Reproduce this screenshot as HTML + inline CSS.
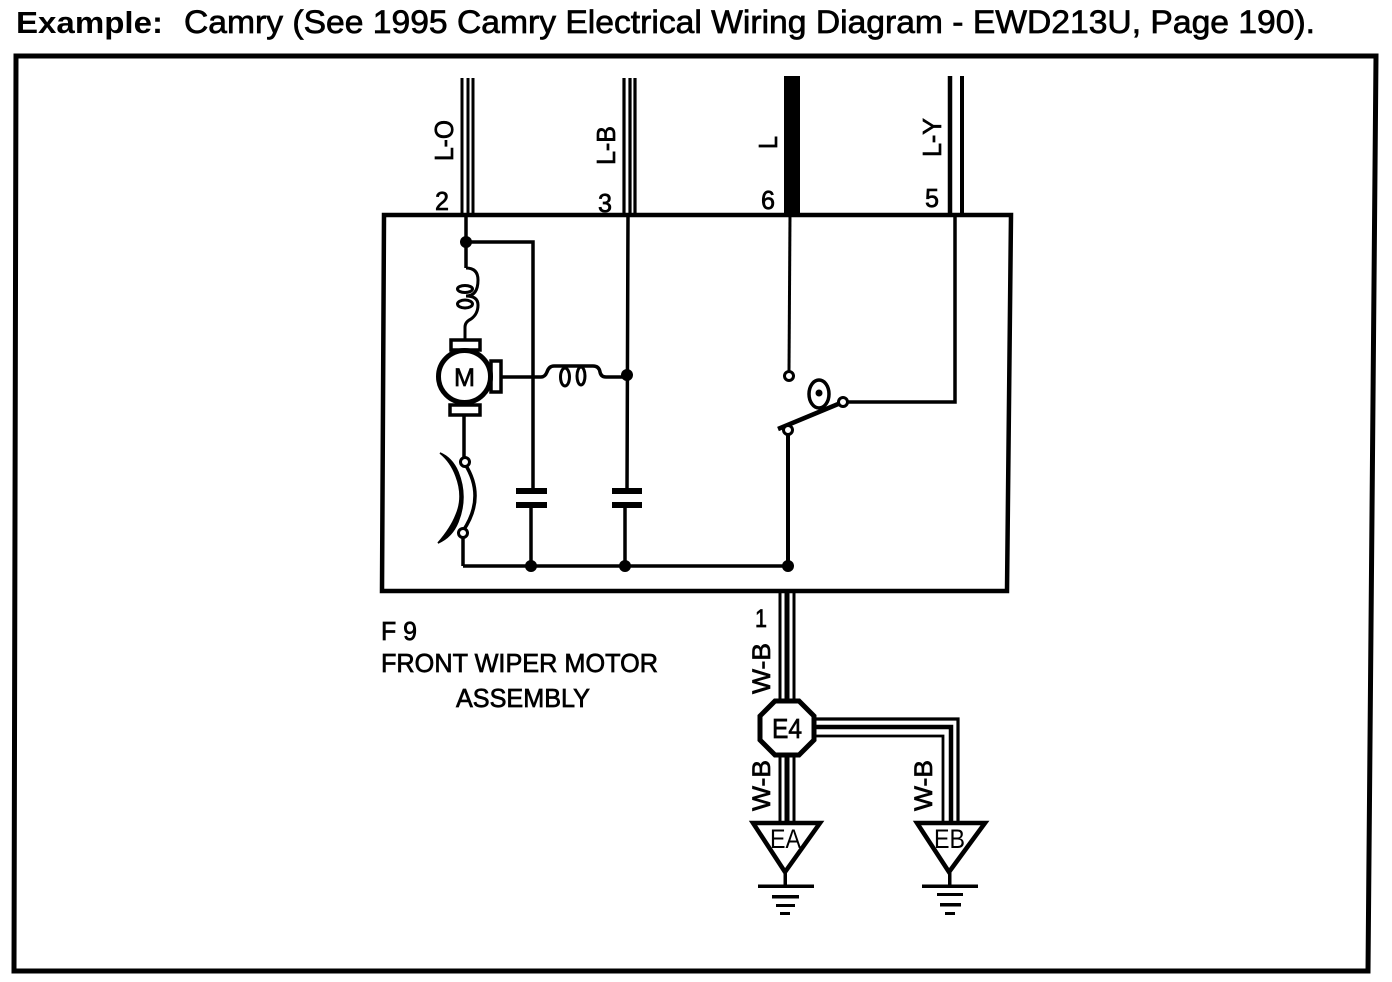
<!DOCTYPE html>
<html>
<head>
<meta charset="utf-8">
<style>
html,body{margin:0;padding:0;background:#fff;width:1392px;height:982px;overflow:hidden}
svg{display:block}
text{font-family:"Liberation Sans",sans-serif;fill:#000}
.w{fill:none;stroke:#000;stroke-width:3.5}
.t{fill:none;stroke:#000;stroke-width:3}
.o{fill:#fff;stroke:#000;stroke-width:3.5}
.s{stroke:#000;stroke-width:.7}
</style>
</head>
<body>
<svg width="1392" height="982" viewBox="0 0 1392 982" xmlns="http://www.w3.org/2000/svg">
<!-- Title -->
<text x="16" y="33" font-size="31" font-weight="bold" textLength="147" lengthAdjust="spacingAndGlyphs">Example:</text>
<text x="184" y="33" font-size="32" textLength="1131" lengthAdjust="spacingAndGlyphs" class="s">Camry (See 1995 Camry Electrical Wiring Diagram - EWD213U, Page 190).</text>

<!-- Outer frame -->
<polygon points="16,56 1376,56 1368,971 14,971" fill="none" stroke="#000" stroke-width="5"/>

<!-- Component box -->
<polygon points="384,215 1011,215 1007,591 382,591" fill="none" stroke="#000" stroke-width="4.500"/>

<!-- Top wires -->
<g stroke="#000" fill="none">
  <path d="M462 78V215M468 78V215M473 78V215" stroke-width="3"/>
  <path d="M624 78V215M630 78V215M635 78V215" stroke-width="3.200"/>
  <path d="M792 76V215" stroke-width="16"/>
  <path d="M950 76V215" stroke-width="4.500"/>
  <path d="M962 76V215" stroke-width="4"/>
</g>

<!-- Top labels -->
<g font-size="26" class="s">
  <text transform="translate(453,161) rotate(-90)" textLength="41" lengthAdjust="spacingAndGlyphs">L-O</text>
  <text transform="translate(615,165) rotate(-90)" textLength="39" lengthAdjust="spacingAndGlyphs">L-B</text>
  <text transform="translate(777,149) rotate(-90)" textLength="13" lengthAdjust="spacingAndGlyphs">L</text>
  <text transform="translate(941,157) rotate(-90)" textLength="39" lengthAdjust="spacingAndGlyphs">L-Y</text>
  <text x="435" y="210" textLength="14" lengthAdjust="spacingAndGlyphs">2</text>
  <text x="598" y="212" textLength="14" lengthAdjust="spacingAndGlyphs">3</text>
  <text x="761" y="209" textLength="14" lengthAdjust="spacingAndGlyphs">6</text>
  <text x="925" y="207" textLength="14" lengthAdjust="spacingAndGlyphs">5</text>
</g>

<!-- Internal wiring -->
<path class="w" d="M466 215V268M466 242H533V491M531 505V566M628 215L627 491M625 505V566M463 566H788M463 533V566"/>
<circle cx="466" cy="242" r="6"/>
<circle cx="531" cy="566" r="6"/>
<circle cx="625" cy="566" r="6"/>
<circle cx="788" cy="566" r="6"/>
<circle cx="627" cy="375" r="6"/>

<!-- Vertical coil -->
<path class="t" d="M466 268Q478 268 478 280Q478 296 466 296Q478 296 478 305Q478 314 471 319Q465 322 465 327V342"/>
<ellipse cx="465" cy="289" rx="7.5" ry="3.500" class="t"/>
<ellipse cx="465" cy="304" rx="7.5" ry="4" class="t"/>

<!-- Motor -->
<rect x="451" y="340" width="29" height="10" class="o"/>
<rect x="450" y="405" width="30" height="10" class="o"/>
<rect x="491" y="361" width="10" height="31" class="o"/>
<circle cx="464.500" cy="376.500" r="26" fill="#fff" stroke="#000" stroke-width="5"/>
<text x="454" y="386" font-size="25" class="s" textLength="21" lengthAdjust="spacingAndGlyphs">M</text>

<!-- Horizontal coil -->
<path class="w" d="M502 377H541Q545 377 547 372Q549 366 554 366H593Q599 366 600 372Q601 377 606 377H627"/>
<ellipse cx="565" cy="377" rx="4.500" ry="9" class="t"/>
<ellipse cx="581" cy="376" rx="4" ry="9" class="t"/>

<!-- Capacitors -->
<g fill="#000">
  <rect x="516" y="488" width="31" height="6"/>
  <rect x="516" y="502" width="31" height="6"/>
  <rect x="612" y="488" width="30" height="6"/>
  <rect x="612" y="502" width="30" height="6"/>
</g>

<!-- Breaker -->
<path class="w" d="M464 416V458"/>
<path d="M440 453Q452 458 458 472Q468 497 458 522Q452 537 438 543Q451 528 456 515Q464 497 456 476Q451 462 440 453Z" fill="#000" stroke="#000" stroke-width="1.500"/>
<path d="M465 464Q486 497 463 531" fill="none" stroke="#000" stroke-width="3.500"/>
<circle cx="465" cy="462" r="4.500" class="t" style="fill:#fff"/>
<circle cx="463" cy="533" r="4.500" class="t" style="fill:#fff"/>

<!-- Switch -->
<path d="M790 215L789 371" fill="none" stroke="#000" stroke-width="3"/>
<path d="M955 215V402H843" class="w"/>
<path d="M788 430V566" fill="none" stroke="#000" stroke-width="4"/>
<path d="M778 429L843 402" fill="none" stroke="#000" stroke-width="4.500"/>
<ellipse cx="819" cy="394" rx="10" ry="14" fill="#fff" stroke="#000" stroke-width="3.500"/>
<circle cx="819" cy="393" r="3.500"/>
<circle cx="789" cy="376" r="4.500" class="t" style="fill:#fff"/>
<circle cx="788" cy="430" r="4.500" class="t" style="fill:#fff"/>
<circle cx="843" cy="402" r="4.500" class="t" style="fill:#fff"/>

<!-- Component name -->
<g font-size="26" class="s">
  <text x="381" y="640" textLength="36" lengthAdjust="spacingAndGlyphs">F 9</text>
  <text x="381" y="672" textLength="277" lengthAdjust="spacingAndGlyphs">FRONT WIPER MOTOR</text>
  <text x="456" y="707" textLength="134" lengthAdjust="spacingAndGlyphs">ASSEMBLY</text>
</g>

<!-- Bottom wires -->
<g fill="none" stroke="#000">
  <path d="M780 591V702M794 591V702M780 752V824M794 752V824" stroke-width="3"/>
  <path d="M787 591V702M787 752V824" stroke-width="5"/>
  <path d="M812 719H958V824" stroke-width="3.200"/>
  <path d="M812 727H951V824" stroke-width="4.500"/>
  <path d="M812 736H943V824" stroke-width="2.800"/>
</g>

<text x="755" y="627" font-size="25" class="s" textLength="12" lengthAdjust="spacingAndGlyphs">1</text>
<g font-size="25" class="s">
  <text transform="translate(770,694) rotate(-90)" textLength="51" lengthAdjust="spacingAndGlyphs">W-B</text>
  <text transform="translate(770,811) rotate(-90)" textLength="51" lengthAdjust="spacingAndGlyphs">W-B</text>
  <text transform="translate(932,811) rotate(-90)" textLength="51" lengthAdjust="spacingAndGlyphs">W-B</text>
</g>

<!-- E4 octagon -->
<polygon points="775,701 799,701 814,716 814,740 799,755 775,755 760,740 760,716" fill="#fff" stroke="#000" stroke-width="5"/>
<text x="772" y="738" font-size="28" class="s" textLength="30" lengthAdjust="spacingAndGlyphs">E4</text>

<!-- Ground triangles -->
<polygon points="753,823 820,823 785,872" fill="none" stroke="#000" stroke-width="4.500"/>
<polygon points="917,823 985,823 949,872" fill="none" stroke="#000" stroke-width="4.500"/>
<text x="770" y="848" font-size="27" textLength="31" lengthAdjust="spacingAndGlyphs">EA</text>
<text x="934" y="848" font-size="27" textLength="31" lengthAdjust="spacingAndGlyphs">EB</text>

<g fill="#000">
  <rect x="783.500" y="872" width="3.500" height="14"/>
  <rect x="758" y="884.500" width="56" height="3.500"/>
  <rect x="772" y="895" width="27" height="3.500"/>
  <rect x="776" y="904" width="19" height="3"/>
  <rect x="780" y="912" width="10" height="3"/>
  <rect x="948" y="872" width="3.500" height="14"/>
  <rect x="922" y="884.500" width="56" height="3.500"/>
  <rect x="937" y="893" width="26" height="3"/>
  <rect x="940" y="903" width="21" height="3.500"/>
  <rect x="945" y="912" width="10" height="3"/>
</g>
</svg>
</body>
</html>
